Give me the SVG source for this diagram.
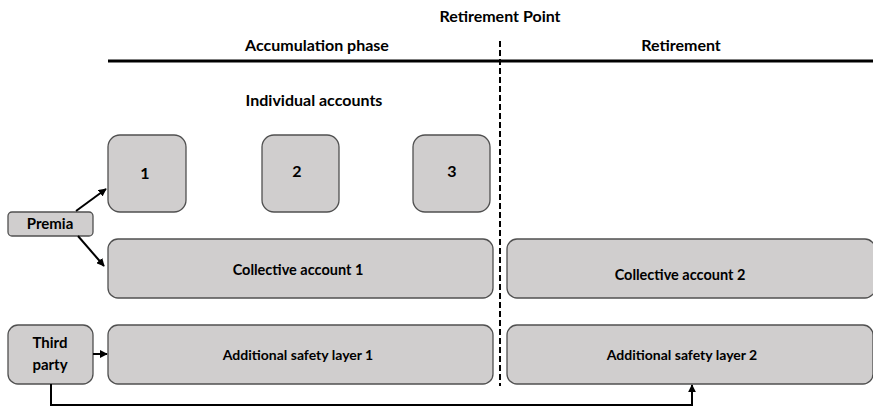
<svg xmlns="http://www.w3.org/2000/svg" width="873" height="407" viewBox="0 0 873 407">
<defs>
<style>
.box{fill:#d0cece;stroke:#505050;stroke-width:1.3}
.t{font-family:Lato,"Open Sans",sans-serif;font-weight:bold;font-size:14px;fill:#000;text-anchor:middle}
.h{font-size:16px}
.c{fill:none;stroke:#000;stroke-width:2}
</style>
<marker id="ah" viewBox="0 0 10 10" refX="9" refY="5" markerWidth="4" markerHeight="4" orient="auto"><path d="M0,0L10,5L0,10z" fill="#000"/></marker>
</defs>
<rect width="873" height="407" fill="#fff"/>
<g id="header">
<text class="t h" x="500" y="22">Retirement Point</text>
<text class="t h" x="317" y="51">Accumulation phase</text>
<text class="t h" x="681" y="51">Retirement</text>
<text class="t h" x="314" y="106">Individual accounts</text>
<line x1="108" y1="61" x2="873" y2="61" stroke="#000" stroke-width="3"/>
<line x1="500" y1="41" x2="500" y2="386" stroke="#000" stroke-width="2" stroke-dasharray="6,3"/>
</g>
<g id="acc1"><rect class="box" x="108" y="135" width="78" height="77" rx="12"/><text class="t h" x="145" y="179">1</text></g>
<g id="acc2"><rect class="box" x="262" y="135" width="77" height="77" rx="12"/><text class="t h" x="297" y="177">2</text></g>
<g id="acc3"><rect class="box" x="413" y="135" width="77" height="77" rx="12"/><text class="t h" x="452" y="177">3</text></g>
<g id="premia"><rect class="box" x="8" y="212" width="85" height="24" rx="4"/><text class="t" x="50" y="229" style="font-size:15px">Premia</text></g>
<g id="coll1"><rect class="box" x="108" y="239" width="385" height="59" rx="10"/><text class="t" x="298" y="275" style="font-size:14.5px">Collective account  1</text></g>
<g id="coll2"><rect class="box" x="507" y="239" width="368" height="59" rx="10"/><text class="t" x="680" y="280" style="font-size:14.5px">Collective account  2</text></g>
<g id="third"><rect class="box" x="8" y="325" width="85" height="59" rx="10"/><text class="t" x="50" y="348" style="font-size:15px">Third</text><text class="t" x="50" y="370" style="font-size:15px">party</text></g>
<g id="safe1"><rect class="box" x="108" y="325" width="385" height="59" rx="10"/><text class="t" x="298" y="360">Additional safety layer 1</text></g>
<g id="safe2"><rect class="box" x="507" y="325" width="366" height="59" rx="10"/><text class="t" x="682" y="360">Additional safety layer 2</text></g>
<g id="connectors">
<line class="c" x1="76" y1="211" x2="106" y2="189" marker-end="url(#ah)"/>
<line class="c" x1="78" y1="236" x2="104" y2="266" marker-end="url(#ah)"/>
<line class="c" x1="93" y1="354" x2="107" y2="354" marker-end="url(#ah)"/>
<path class="c" d="M51,384V405H692V385" marker-end="url(#ah)"/>
</g>
</svg>
